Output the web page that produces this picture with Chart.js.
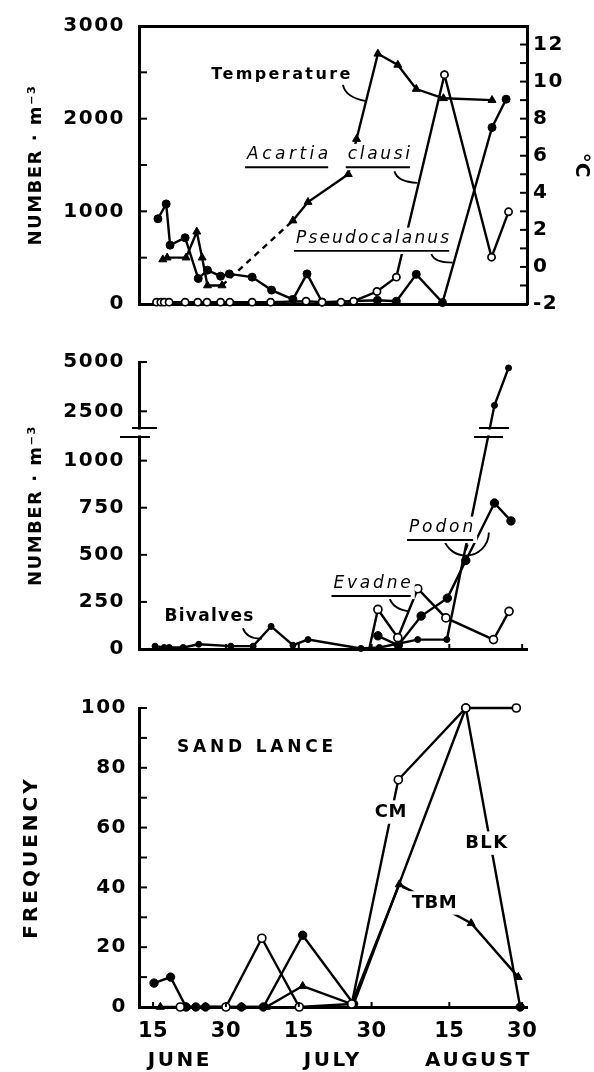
<!DOCTYPE html>
<html lang="en">
<head>
<meta charset="utf-8">
<title>Zooplankton and sand lance, June–August</title>
<script src="https://cdn.jsdelivr.net/npm/chart.js@4.4.1/dist/chart.umd.min.js"></script>
<style>
  html, body { margin: 0; padding: 0; background: #fff; }
  #figure { position: relative; width: 594px; height: 1072px; overflow: hidden; background: #fff; }
  #figure canvas { position: absolute; left: 0; }
</style>
</head>
<body>
<div id="figure">
  <canvas id="copepods" width="594" height="330" style="top:0"></canvas>
  <canvas id="cladocerans" width="594" height="345" style="top:330px"></canvas>
  <canvas id="sandlance" width="594" height="392" style="top:680px"></canvas>
</div>
<script>
const INK = '#000';
const FONT = "'DejaVu Sans', 'Liberation Sans', sans-serif";
Chart.defaults.font.family = FONT;
Chart.defaults.color = INK;

// ---- x axis: day counted from 31 May (15 = 15 June, 45 = 15 July, 76 = 15 August)
const dayTicks = [15, 30, 45, 60, 76, 91];
const dayTickLabels = ['15', '30', '15', '30', '15', '30'];
const monthNames = ['JUNE', 'JULY', 'AUGUST'];

// ---- copepods (number per m3) and water temperature (°C)
const acartiaDays   = [15.7, 16.6, 17.3, 18.3, 21.6, 24.2, 26.1, 28.9, 30.8, 35.4, 39.2, 46.5, 49.8, 53.7, 56.3, 61.1, 65.1, 75.0, 84.7, 88.2];
const acartiaCounts = [20, 20, 20, 20, 20, 20, 20, 20, 20, 20, 20, 30, 20, 20, 30, 135, 290, 2475, 505, 995];

const pseudoDays    = [16.0, 17.7, 18.5, 21.6, 24.3, 26.2, 28.9, 30.7, 35.4, 39.4, 43.8, 46.7, 49.8, 61.2, 65.1, 69.2, 74.6, 84.8, 87.7];
const pseudoCounts  = [920, 1080, 635, 715, 275, 365, 300, 325, 290, 150, 50, 325, 20, 40, 30, 320, 15, 1905, 2210];

const tempDays      = [17.0, 17.9, 21.8, 24.0, 25.1, 26.2, 29.2, 43.8, 46.9, 55.2, 56.9, 61.3, 65.4, 69.2, 74.8, 84.8];
const tempValues    = [0.4, 0.5, 0.5, 1.9, 0.5, -1.0, -1.0, 2.5, 3.5, 5.0, 6.9, 11.5, 10.9, 9.6, 9.1, 9.0];
const tempGapAfter  = 6;   // no samples between these two readings

const copepodTicks  = [0, 500, 1000, 1500, 2000, 2500, 3000];
const tempTicks     = [-2, -1, 0, 1, 2, 3, 4, 5, 6, 7, 8, 9, 10, 11, 12];

// ---- bivalve larvae and cladocerans (number per m3)
const bivalveDays   = [15.4, 17.3, 18.3, 21.2, 24.4, 31.0, 35.6, 39.3, 43.8, 46.9, 57.8, 61.6, 69.5, 75.5, 85.3, 88.2];
const bivalveCounts = [15, 8, 8, 8, 25, 15, 15, 120, 20, 50, 3, 8, 50, 50, 2800, 4700];

const evadneDays    = [59.5, 61.3, 65.4, 69.5, 75.3, 85.1, 88.3];
const evadneCounts  = [0, 210, 60, 320, 165, 50, 200];

const podonDays     = [61.3, 65.5, 70.2, 75.6, 79.4, 85.3, 88.7];
const podonCounts   = [70, 20, 175, 270, 470, 775, 680];

const cladoTicks    = [0, 250, 500, 750, 1000, 2500, 5000];

// ---- sand lance feeding frequency (%)
const cmDays  = [20.6, 30.0, 37.4, 45.1, 55.9, 65.5, 79.4, 89.8];
const cmFreq  = [0, 0, 23, 0, 1, 76, 100, 100];
const blkDays = [15.2, 18.6, 21.8, 23.8, 25.8, 33.2, 37.7, 45.8, 56.3, 79.4, 90.6];
const blkFreq = [8, 10, 0, 0, 0, 0, 0, 24, 1, 100, 0];
const tbmDays = [16.5, 21.8, 25.8, 33.2, 38.3, 45.8, 55.9, 65.7, 80.5, 90.2];
const tbmFreq = [0, 0, 0, 0, 0, 7, 1, 41, 28, 10];

const freqTicks = [0, 10, 20, 30, 40, 50, 60, 70, 80, 90, 100];

// ---------------------------------------------------------------------------
const DAY_MIN = 12.1, DAY_MAX = 92.0;

// Broken count axis: 0–1126 at full scale, a short gap, then a compressed
// upper range for the large late-August counts.
const LOW_END = 1126, HIGH_START = 1650, GAP = 47, HIGH_RATIO = 0.1047;
function toBroken(v) {
  if (v <= LOW_END) return v;
  if (v < HIGH_START) return LOW_END + (v - LOW_END) * GAP / (HIGH_START - LOW_END);
  return LOW_END + GAP + (v - HIGH_START) * HIGH_RATIO;
}
function fromBroken(u) {
  if (u <= LOW_END) return u;
  if (u < LOW_END + GAP) return LOW_END + (u - LOW_END) * (HIGH_START - LOW_END) / GAP;
  return HIGH_START + (u - LOW_END - GAP) / HIGH_RATIO;
}
class BrokenLinearScale extends Chart.LinearScale {
  getPixelForValue(value) {
    return value === null || value === undefined ? NaN : super.getPixelForValue(toBroken(value));
  }
  getValueForPixel(pixel) {
    return fromBroken(super.getValueForPixel(pixel));
  }
}
BrokenLinearScale.id = 'brokenLinear';
BrokenLinearScale.defaults = Chart.LinearScale.defaults;
Chart.register(BrokenLinearScale);

function points(days, values) {
  return days.map((d, i) => ({ x: d, y: values[i] }));
}

function series(label, days, values, marker, extra) {
  return Object.assign({
    label,
    data: points(days, values),
    xAxisID: 'x',
    borderColor: INK,
    borderWidth: 2.4,
    tension: 0,
    clip: false,
    pointStyle: marker.style || 'circle',
    pointRadius: marker.radius,
    pointBorderWidth: marker.open ? 1.7 : 1,
    pointBackgroundColor: marker.open ? '#fff' : INK,
    pointBorderColor: INK
  }, extra || {});
}

function dayAxis(height, labelled) {
  return {
    type: 'linear', position: 'bottom', min: DAY_MIN, max: DAY_MAX,
    grid: { display: false, drawTicks: false },
    border: { display: true, width: 3, color: INK },
    afterBuildTicks: s => { s.ticks = dayTicks.map(v => ({ value: v })); },
    afterFit: s => { s.height = height; },
    ticks: {
      display: labelled, autoSkip: false, maxRotation: 0, minRotation: 0, padding: 12,
      font: { size: 21, weight: 'bold' },
      callback: (v, i) => dayTickLabels[i]
    }
  };
}

function valueAxis(o) {
  return {
    type: o.type || 'linear', position: o.position || 'left', min: o.min, max: o.max,
    grid: { display: false, drawTicks: false },
    border: { display: true, width: 3, color: INK },
    afterBuildTicks: s => { s.ticks = o.ticks.map(v => ({ value: v })); },
    afterFit: s => { s.width = o.width; },
    ticks: {
      autoSkip: false, padding: o.padding, font: { size: 20, weight: 'bold' },
      callback: o.label
    },
    title: {
      display: true, text: o.title, font: { size: o.titleSize || 18, weight: 'bold' },
      padding: { top: o.titleOffset, bottom: 0 }
    }
  };
}

// short tick marks drawn on the inside of each axis
function inwardTicks(lengths) {
  return {
    id: 'inwardTicks',
    afterDraw(chart) {
      const { ctx, chartArea: a } = chart;
      ctx.save();
      ctx.strokeStyle = INK;
      ctx.lineWidth = 2;
      for (const [id, len] of Object.entries(lengths)) {
        const s = chart.scales[id];
        if (!s) continue;
        s.ticks.forEach((t, i) => {
          const p = s.getPixelForTick(i);
          ctx.beginPath();
          if (s.position === 'left') { ctx.moveTo(a.left, p); ctx.lineTo(a.left + len, p); }
          else if (s.position === 'right') { ctx.moveTo(a.right, p); ctx.lineTo(a.right - len, p); }
          else { ctx.moveTo(p, a.bottom); ctx.lineTo(p, a.bottom - len); }
          ctx.stroke();
        });
      }
      ctx.restore();
    }
  };
}

// wider letter spacing for the axis lettering
function textSpacing(tickSpacing, titleSpacing) {
  return {
    id: 'textSpacing',
    beforeDraw(chart) {
      for (const s of Object.values(chart.scales)) {
        if (s.__spaced) continue;
        s.__spaced = true;
        const drawLabels = s.drawLabels, drawTitle = s.drawTitle;
        s.drawLabels = function (area) {
          this.ctx.save();
          this.ctx.letterSpacing = (tickSpacing[this.id] || 0) + 'px';
          drawLabels.call(this, area);
          this.ctx.restore();
        };
        s.drawTitle = function () {
          this.ctx.save();
          this.ctx.letterSpacing = (titleSpacing[this.id] || 0) + 'px';
          drawTitle.call(this);
          this.ctx.restore();
        };
      }
    }
  };
}

// in-plot labels with their curved pointer lines
function notes(spec) {
  return {
    id: 'notes',
    afterDatasetsDraw(chart) {
      const { ctx } = chart;
      const xs = chart.scales.x, ys = chart.scales.y;
      const px = ([d, v]) => [xs.getPixelForValue(d), ys.getPixelForValue(v)];
      ctx.save();
      ctx.strokeStyle = INK;
      ctx.fillStyle = INK;
      ctx.lineWidth = 1.9;
      (spec.leaders || []).forEach(([a, c, b]) => {
        const p0 = px(a), p1 = px(c), p2 = px(b);
        ctx.beginPath();
        ctx.moveTo(p0[0], p0[1]);
        ctx.quadraticCurveTo(p1[0], p1[1], p2[0], p2[1]);
        ctx.stroke();
      });
      (spec.arcs || []).forEach(arc => {
        const [cx, cy] = px(arc.at);
        ctx.beginPath();
        ctx.arc(cx, cy, arc.radius, arc.from, arc.to);
        ctx.stroke();
      });
      (spec.labels || []).forEach(l => {
        const [x, y] = px(l.at);
        const sp = l.spacing || 0;
        ctx.font = (l.italic ? 'oblique ' : '') + (l.bold ? 'bold ' : '') + l.size + 'px ' + FONT;
        ctx.letterSpacing = sp + 'px';
        const w = ctx.measureText(l.text).width - sp;
        if (l.mask) {
          ctx.fillStyle = '#fff';
          ctx.fillRect(x - w / 2 - 4, y - l.size * 0.65, w + 8, l.size * (l.underline ? 1.55 : 1.3));
          ctx.fillStyle = INK;
        }
        ctx.textAlign = 'left';
        ctx.textBaseline = 'middle';
        ctx.fillText(l.text, x - w / 2, y);
        if (l.underline) {
          ctx.lineWidth = 1.9;
          ctx.beginPath();
          ctx.moveTo(x - w / 2 - 2, y + l.size * 0.72);
          ctx.lineTo(x + w / 2, y + l.size * 0.72);
          ctx.stroke();
        }
      });
      ctx.restore();
    }
  };
}

// the "//" break symbol on the count axis and on the line that crosses it
function breakMarks(datasetLabel) {
  return {
    id: 'breakMarks',
    afterDatasetsDraw(chart) {
      const { ctx, chartArea: a } = chart;
      const ys = chart.scales.y;
      const yHi = ys.getPixelForValue(HIGH_START);
      const yLo = ys.getPixelForValue(LOW_END);
      const mid = (yHi + yLo) / 2;
      const spots = [{ x: a.left, l1: -7, r1: 18, l2: -19, r2: 11 }];
      const idx = chart.data.datasets.findIndex(d => d.label === datasetLabel);
      const pts = chart.getDatasetMeta(idx).data;
      for (let i = 1; i < pts.length; i++) {
        const p0 = pts[i - 1], p1 = pts[i];
        if ((p0.y - mid) * (p1.y - mid) < 0) {
          const x = p0.x + (mid - p0.y) / (p1.y - p0.y) * (p1.x - p0.x);
          spots.push({ x, l1: -10, r1: 20, l2: -15, r2: 14 });
        }
      }
      ctx.save();
      spots.forEach(s => {
        ctx.fillStyle = '#fff';
        ctx.fillRect(s.x - 12, yHi + 1.5, 26, yLo - yHi - 3);
        ctx.strokeStyle = INK;
        ctx.lineWidth = 2;
        ctx.beginPath();
        ctx.moveTo(s.x + s.l1, yHi); ctx.lineTo(s.x + s.r1, yHi);
        ctx.moveTo(s.x + s.l2, yLo); ctx.lineTo(s.x + s.r2, yLo);
        ctx.stroke();
      });
      ctx.restore();
    }
  };
}

const common = {
  responsive: false,
  animation: false,
  events: [],
  plugins: { legend: { display: false }, tooltip: { enabled: false } }
};

// ---------------- copepods and temperature ----------------
new Chart(document.getElementById('copepods'), {
  type: 'line',
  data: {
    datasets: [
      series('Acartia clausi', acartiaDays, acartiaCounts, { radius: 3.6, open: true }),
      series('Pseudocalanus', pseudoDays, pseudoCounts, { radius: 4 }),
      series('Temperature', tempDays, tempValues, { radius: 4.6, style: 'triangle' }, {
        yAxisID: 'y2',
        segment: { borderDash: c => c.p0DataIndex === tempGapAfter ? [6, 5] : undefined }
      })
    ]
  },
  options: Object.assign({}, common, {
    layout: { padding: 0 },
    scales: {
      x: dayAxis(22, false),
      xTop: {
        type: 'linear', position: 'top', min: DAY_MIN, max: DAY_MAX,
        grid: { display: false, drawTicks: false },
        border: { display: true, width: 3, color: INK },
        ticks: { display: false },
        afterFit: s => { s.height = 19; }
      },
      y: valueAxis({
        min: 0, max: 3000, ticks: copepodTicks, width: 139, padding: 14,
        label: v => (v % 1000 === 0 ? String(v) : ''),
        title: 'NUMBER · m⁻³', titleOffset: 26
      }),
      y2: valueAxis({
        position: 'right', min: -2, max: 13, ticks: tempTicks, width: 67, padding: 6,
        label: v => (v % 2 === 0 ? String(v) : ''),
        title: '°C', titleSize: 20, titleOffset: 1
      })
    }
  }),
  plugins: [
    notes({
      labels: [
        { text: 'Temperature', at: [41.3, 2470], size: 16, bold: true, spacing: 2.4 },
        { text: 'Acartia', at: [42.7, 1608], size: 17, italic: true, underline: true, spacing: 3.5, mask: true },
        { text: 'clausi', at: [61.5, 1608], size: 17, italic: true, underline: true, spacing: 2.7, mask: true },
        { text: 'Pseudocalanus', at: [60.2, 705], size: 17, italic: true, underline: true, spacing: 2.2, mask: true }
      ],
      leaders: [
        [[54.1, 2365], [54.6, 2230], [58.9, 2189]],
        [[64.7, 1432], [65.3, 1317], [69.4, 1307]],
        [[72.3, 539], [72.9, 446], [76.7, 446]]
      ]
    }),
    inwardTicks({ y: 8, y2: 7 }),
    textSpacing({ y: 1.5, y2: 1.5 }, { y: 1.5 })
  ]
});

// ---------------- bivalve larvae and cladocerans ----------------
new Chart(document.getElementById('cladocerans'), {
  type: 'line',
  data: {
    datasets: [
      series('Bivalves', bivalveDays, bivalveCounts, { radius: 3 }),
      series('Evadne', evadneDays, evadneCounts, { radius: 4, open: true }, {
        // the rise starts from the baseline without a marker
        pointRadius: c => (c.dataIndex === 0 ? 0 : 4)
      }),
      series('Podon', podonDays, podonCounts, { radius: 4.2 })
    ]
  },
  options: Object.assign({}, common, {
    layout: { padding: { top: 32, right: 67 } },
    scales: {
      x: dayAxis(22, false),
      y: valueAxis({
        type: 'brokenLinear', min: 0, max: toBroken(5000), ticks: cladoTicks, width: 139, padding: 14,
        label: v => String(v),
        title: 'NUMBER · m⁻³', titleOffset: 26
      })
    }
  }),
  plugins: [
    breakMarks('Bivalves'),
    notes({
      labels: [
        { text: 'Bivalves', at: [26.5, 173], size: 17, bold: true, spacing: 1.3 },
        { text: 'Evadne', at: [60.1, 346], size: 17, italic: true, underline: true, spacing: 2.8, mask: true },
        { text: 'Podon', at: [74.3, 644], size: 17, italic: true, underline: true, spacing: 2.9, mask: true }
      ],
      leaders: [
        [[33.5, 110], [34.3, 52], [37.4, 55]],
        [[63.7, 272], [64.3, 212], [67.7, 200]],
        [[79.8, 555], [79.6, 540], [79.4, 524]]
      ],
      arcs: [{ at: [79.4, 618], radius: 23, from: 0, to: 2.8 }]
    }),
    inwardTicks({ y: 8, x: 5 }),
    textSpacing({ y: 1.5 }, { y: 1.5 })
  ]
});

// ---------------- sand lance ----------------
new Chart(document.getElementById('sandlance'), {
  type: 'line',
  data: {
    datasets: [
      series('CM', cmDays, cmFreq, { radius: 4, open: true }),
      series('BLK', blkDays, blkFreq, { radius: 4.2 }),
      series('TBM', tbmDays, tbmFreq, { radius: 4.6, style: 'triangle' })
    ]
  },
  options: Object.assign({}, common, {
    layout: { padding: { top: 28, right: 67 } },
    scales: {
      x: dayAxis(38, true),
      xMonth: {
        type: 'linear', position: 'bottom', weight: 1, min: DAY_MIN, max: DAY_MAX,
        grid: { display: false, drawTicks: false },
        border: { display: false },
        afterBuildTicks: s => { s.ticks = [20.5, 52, 82].map(v => ({ value: v })); },
        afterFit: s => { s.height = 27; },
        ticks: {
          autoSkip: false, maxRotation: 0, minRotation: 0, padding: 4,
          font: { size: 20, weight: 'bold' },
          callback: (v, i) => monthNames[i]
        }
      },
      y: valueAxis({
        min: 0, max: 100, ticks: freqTicks, width: 139, padding: 12,
        label: v => (v % 20 === 0 ? String(v) : ''),
        title: 'FREQUENCY', titleSize: 20, titleOffset: 20
      })
    }
  }),
  plugins: [
    notes({
      labels: [
        { text: 'SAND LANCE', at: [36.0, 86.6], size: 17, bold: true, spacing: 3.8 },
        { text: 'CM', at: [63.9, 65.2], size: 18, bold: true, spacing: 0.5, mask: true },
        { text: 'BLK', at: [83.6, 54.8], size: 18, bold: true, spacing: 1.5, mask: true },
        { text: 'TBM', at: [72.9, 34.8], size: 18, bold: true, spacing: 0.5, mask: true }
      ],
      leaders: [
        [[66.3, 40.1], [67.2, 39.5], [68.2, 38.8]]
      ]
    }),
    inwardTicks({ y: 8, x: 5 }),
    textSpacing({ y: 1.5, x: 0.5, xMonth: 2.5 }, { y: 3 })
  ]
});
</script>
</body>
</html>
